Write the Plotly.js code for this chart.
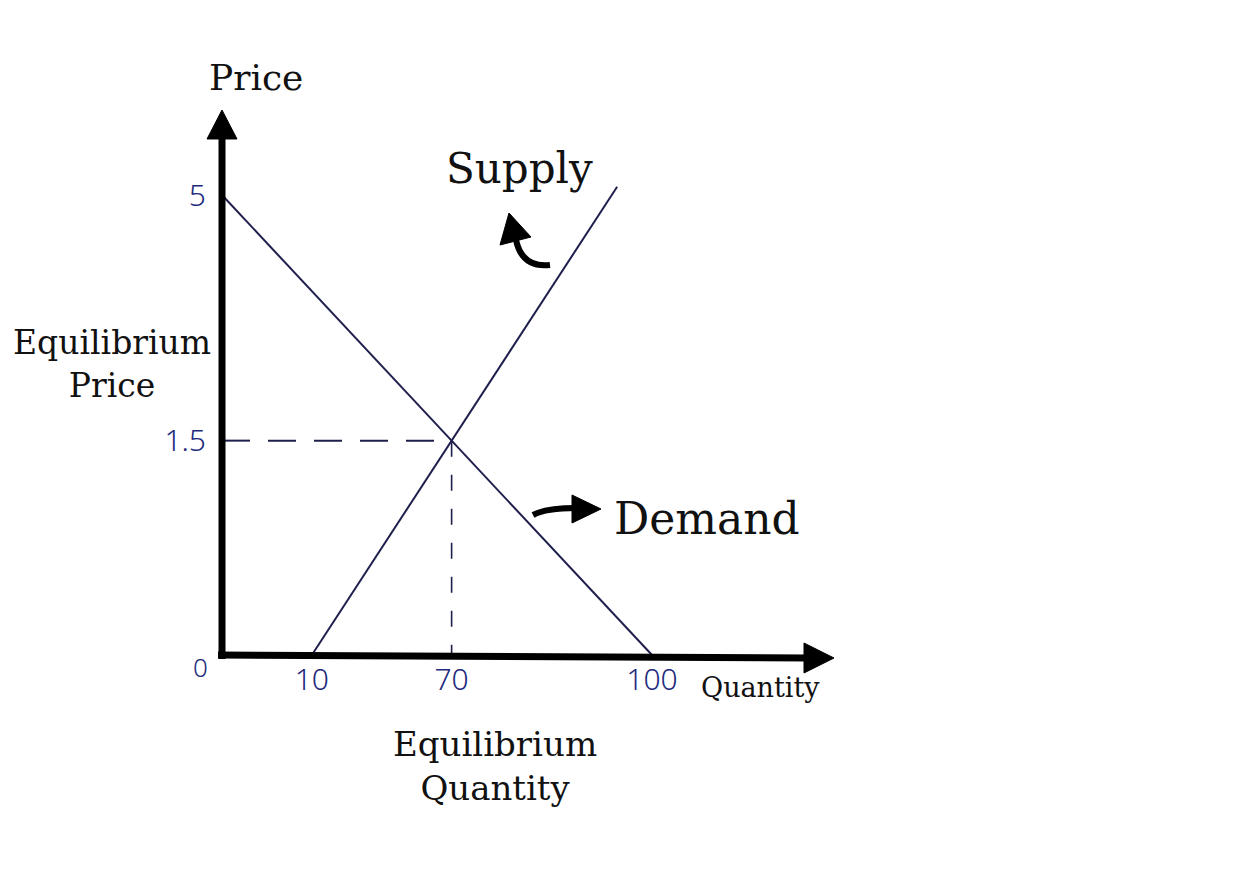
<!DOCTYPE html>
<html>
<head>
<meta charset="utf-8">
<script src="https://cdn.plot.ly/plotly-3.0.1.min.js"></script>
<style>
html,body{margin:0;padding:0;background:#fff;}
#chart{width:1242px;height:880px;}
</style>
</head>
<body>
<div id="chart"></div>
<script>
// ---- Data (in the sketch's own linear units) ----
var demandQ = [0, 100];
var demandP = [5, 0];
var supplyQ = [20.9, 91.9];
var supplyP = [0, 5.09];
var eqQ = 53.4;
var eqP = 2.33;

// tick labels as written on the sketch
var qTickVals = [20.9, 53.4, 100];
var qTickText = ['10', '70', '100'];
var pTickVals = [2.33, 5];
var pTickText = ['1.5', '5'];

// ---- helpers for page-pixel -> paper fractions (decorations only) ----
var W = 1242, H = 880;
function fx(px){ return px / W; }
function fy(py){ return 1 - py / H; }
function pathPx(pts){
  var s = '';
  for (var i = 0; i < pts.length; i++){
    var c = pts[i];
    s += fx(c[0]).toFixed(5) + ',' + fy(c[1]).toFixed(5) + ' ';
  }
  return s;
}

var navy = '#1f1f4d';
var ink = '#1e2a7c';

var traces = [
  {x: demandQ, y: demandP, mode: 'lines', line: {color: navy, width: 2}, hoverinfo: 'skip'},
  {x: supplyQ, y: supplyP, mode: 'lines', line: {color: navy, width: 2}, hoverinfo: 'skip'},
  {x: [0, eqQ], y: [eqP, eqP], mode: 'lines', line: {color: navy, width: 2, dash: '28px,18px'}, hoverinfo: 'skip'},
  {x: [eqQ, eqQ], y: [eqP, 0], mode: 'lines', line: {color: navy, width: 1.6, dash: '16px,18px'}, hoverinfo: 'skip'}
];

var serif = 'DejaVu Serif';
function label(text, px, py, size){
  return {text: text, xref: 'paper', yref: 'paper', x: fx(px), y: fy(py),
    xanchor: 'center', yanchor: 'middle', showarrow: false,
    font: {family: serif, size: size, color: '#111'}};
}

var annotations = [
  label('Price', 256, 78, 36),
  label('Supply', 519, 168, 42),
  label('Demand', 707, 518, 44),
  label('Equilibrium<br>Price', 112, 364, 33),
  label('Equilibrium<br>Quantity', 495, 766, 34),
  label('Quantity', 761, 687, 27),
  {text: '0', xref: 'paper', yref: 'paper', x: fx(200), y: fy(667), xanchor: 'center', yanchor: 'middle',
   showarrow: false, font: {family: 'Noto Sans', size: 26, color: ink, weight: 300}}
];

var shapes = [
  // y axis
  {type: 'line', xref: 'paper', yref: 'paper', x0: fx(222), y0: fy(659), x1: fx(222), y1: fy(135),
   line: {color: '#000', width: 7}},
  {type: 'path', xref: 'paper', yref: 'paper', path: 'M' + pathPx([[222, 110]]) + 'L' + pathPx([[207, 139]]) + 'L' + pathPx([[237, 139]]) + 'Z',
   fillcolor: '#000', line: {color: '#000', width: 1}},
  // x axis
  {type: 'line', xref: 'paper', yref: 'paper', x0: fx(218), y0: fy(655), x1: fx(808), y1: fy(658),
   line: {color: '#000', width: 7}},
  {type: 'path', xref: 'paper', yref: 'paper', path: 'M' + pathPx([[834, 658]]) + 'L' + pathPx([[804, 643]]) + 'L' + pathPx([[804, 673]]) + 'Z',
   fillcolor: '#000', line: {color: '#000', width: 1}},
  // curved arrow near Supply
  {type: 'path', xref: 'paper', yref: 'paper', path: 'M' + pathPx([[550, 265]]) + 'Q' + pathPx([[522, 268], [516, 240]]),
   line: {color: '#000', width: 6}},
  {type: 'path', xref: 'paper', yref: 'paper', path: 'M' + pathPx([[509, 213]]) + 'L' + pathPx([[500, 245]]) + 'L' + pathPx([[531, 237]]) + 'Z',
   fillcolor: '#000', line: {color: '#000', width: 1}},
  // curved arrow near Demand
  {type: 'path', xref: 'paper', yref: 'paper', path: 'M' + pathPx([[533, 515]]) + 'Q' + pathPx([[546, 508], [576, 508]]),
   line: {color: '#000', width: 6}},
  {type: 'path', xref: 'paper', yref: 'paper', path: 'M' + pathPx([[601, 509]]) + 'L' + pathPx([[572, 495]]) + 'L' + pathPx([[572, 523]]) + 'Z',
   fillcolor: '#000', line: {color: '#000', width: 1}}
];

var layout = {
  width: W, height: H,
  margin: {l: 0, r: 0, t: 0, b: 0, pad: 0},
  paper_bgcolor: '#fff', plot_bgcolor: '#fff',
  showlegend: false,
  xaxis: {range: [-222/4.3, (W-222)/4.3], showgrid: false, zeroline: false, showline: false,
    anchor: 'free', position: fy(657), automargin: false,
    tickmode: 'array', tickvals: qTickVals, ticktext: qTickText, ticks: '',
    ticklabelstandoff: 2,
    tickfont: {family: 'Noto Sans', size: 30, color: ink, weight: 300}},
  yaxis: {range: [(655-H)/92, 655/92], showgrid: false, zeroline: false, showline: false,
    anchor: 'free', position: fx(222), automargin: false,
    tickmode: 'array', tickvals: pTickVals, ticktext: pTickText, ticks: '',
    ticklabelstandoff: 16,
    tickfont: {family: 'Noto Sans', size: 30, color: ink, weight: 300}},
  annotations: annotations,
  shapes: shapes
};

Plotly.newPlot('chart', traces, layout, {displayModeBar: false, staticPlot: true});
</script>
</body>
</html>
